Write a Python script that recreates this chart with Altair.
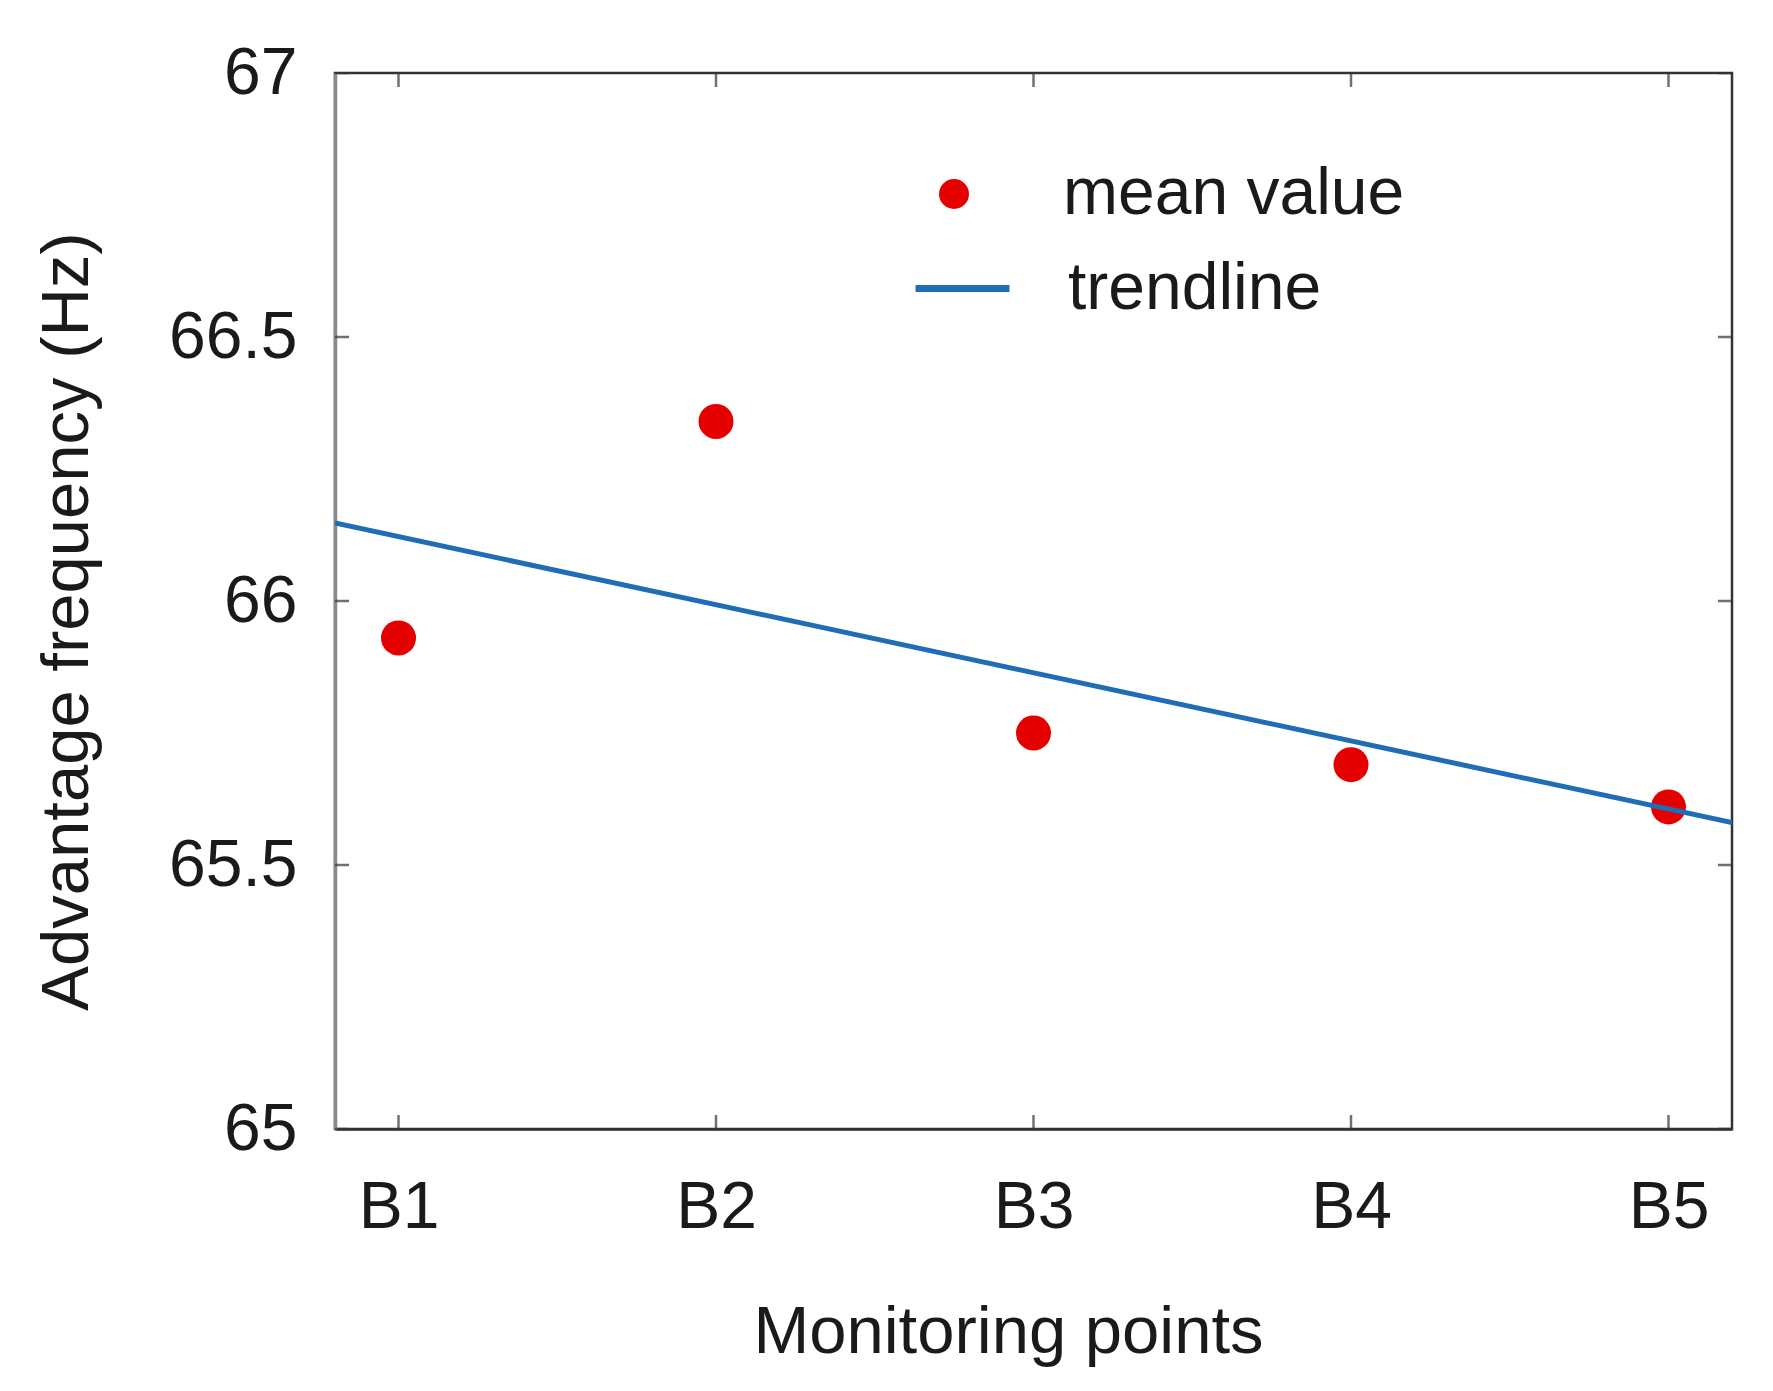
import json
import altair as alt
import pandas as pd

# ---- data ----
categories = ["B1", "B2", "B3", "B4", "B5"]
mean_values = [65.93, 66.34, 65.75, 65.69, 65.61]
y_ticks = [65, 65.5, 66, 66.5, 67]
x_domain = [0.8, 5.2]
y_domain = [65, 67]
legend_labels = ["mean value", "trendline"]

positions = list(range(1, len(categories) + 1))
df = pd.DataFrame({"pos": positions, "cat": categories, "value": mean_values,
                   "series": legend_labels[0]})
ytick_df = pd.DataFrame({"value": y_ticks})
xtick_df = pd.DataFrame({"pos": positions})

W, H = 1397, 1056
FONT = "Liberation Sans"
TXT = "#1a1a1a"
RED = "#e50000"
BLUE = "#1f6db5"
FRAME = "#333333"

xscale = alt.Scale(domain=x_domain, nice=False, zero=False)
yscale = alt.Scale(domain=y_domain, nice=False, zero=False)

x_axis = alt.Axis(values=positions,
                  labelExpr=json.dumps(categories) + "[datum.value - 1]",
                  title="Monitoring points", ticks=False, grid=False,
                  labelFontSize=66, labelPadding=98, labelBaseline="alphabetic",
                  labelFlush=False,
                  titleFontSize=67, titleX=673, titleY=223, titleBaseline="alphabetic",
                  titleFontWeight="normal",
                  domainColor=FRAME, domainWidth=2.5)
y_axis = alt.Axis(values=y_ticks, format="~g",
                  title="Advantage frequency (Hz)", ticks=False, grid=False,
                  labelFontSize=66, labelPadding=38, labelFlush=False,
                  titleFontSize=67, titleX=-248, titleY=548, titleAngle=270,
                  titleBaseline="alphabetic", titleFontWeight="normal",
                  domainColor="#8a8a8a", domainWidth=3.5)

X = lambda f: alt.X(f, type="quantitative", scale=xscale, axis=x_axis)
Y = lambda f: alt.Y(f, type="quantitative", scale=yscale, axis=y_axis)

points = alt.Chart(df).mark_circle(size=1225, opacity=1).encode(
    x=X("pos"), y=Y("value"),
    color=alt.Color("series:N",
                    scale=alt.Scale(domain=[legend_labels[0]], range=[RED]),
                    legend=alt.Legend(orient="none", legendX=586, legendY=88,
                                      title=None, labelFontSize=66, labelLimit=0,
                                      symbolSize=900, symbolType="circle",
                                      labelOffset=76, padding=0, symbolOpacity=1)),
)

trend = alt.Chart(df).transform_regression(
    "pos", "value", extent=x_domain
).transform_calculate(
    series=json.dumps(legend_labels[1])
).mark_line(strokeWidth=5, clip=True).encode(
    x=X("pos"), y=Y("value"),
    color=alt.Color("series:N",
                    scale=alt.Scale(domain=[legend_labels[1]], range=[BLUE]),
                    legend=alt.Legend(orient="none", legendX=577, legendY=165,
                                      title=None, labelFontSize=66, labelLimit=0,
                                      symbolType="stroke", symbolSize=8836,
                                      symbolStrokeWidth=7, labelOffset=55,
                                      padding=0)),
)

def ytick(xval):
    return alt.Chart(ytick_df).mark_tick(
        orient="horizontal", size=28, thickness=2.5, color=FRAME, clip=True
    ).encode(x=alt.X(datum=xval, type="quantitative", scale=xscale, axis=x_axis),
             y=Y("value"))

def xtick(yval):
    return alt.Chart(xtick_df).mark_tick(
        orient="vertical", size=28, thickness=2.5, color=FRAME, clip=True
    ).encode(x=X("pos"),
             y=alt.Y(datum=yval, type="quantitative", scale=yscale, axis=y_axis))

chart = alt.layer(
    points, trend,
    ytick(x_domain[0]), ytick(x_domain[1]),
    xtick(y_domain[0]), xtick(y_domain[1]),
).resolve_scale(color="independent").properties(
    width=W, height=H,
    padding={"left": 327, "top": 65, "right": 30, "bottom": 250},
    autosize=alt.AutoSizeParams(type="none"),
).configure(font=FONT).configure_view(
    stroke=FRAME, strokeWidth=2.5
).configure_axis(
    labelFont=FONT, titleFont=FONT, labelColor=TXT, titleColor=TXT
).configure_legend(
    labelFont=FONT, labelColor=TXT
)

chart.save("out.html", embed_options={"renderer": "svg", "actions": False})
